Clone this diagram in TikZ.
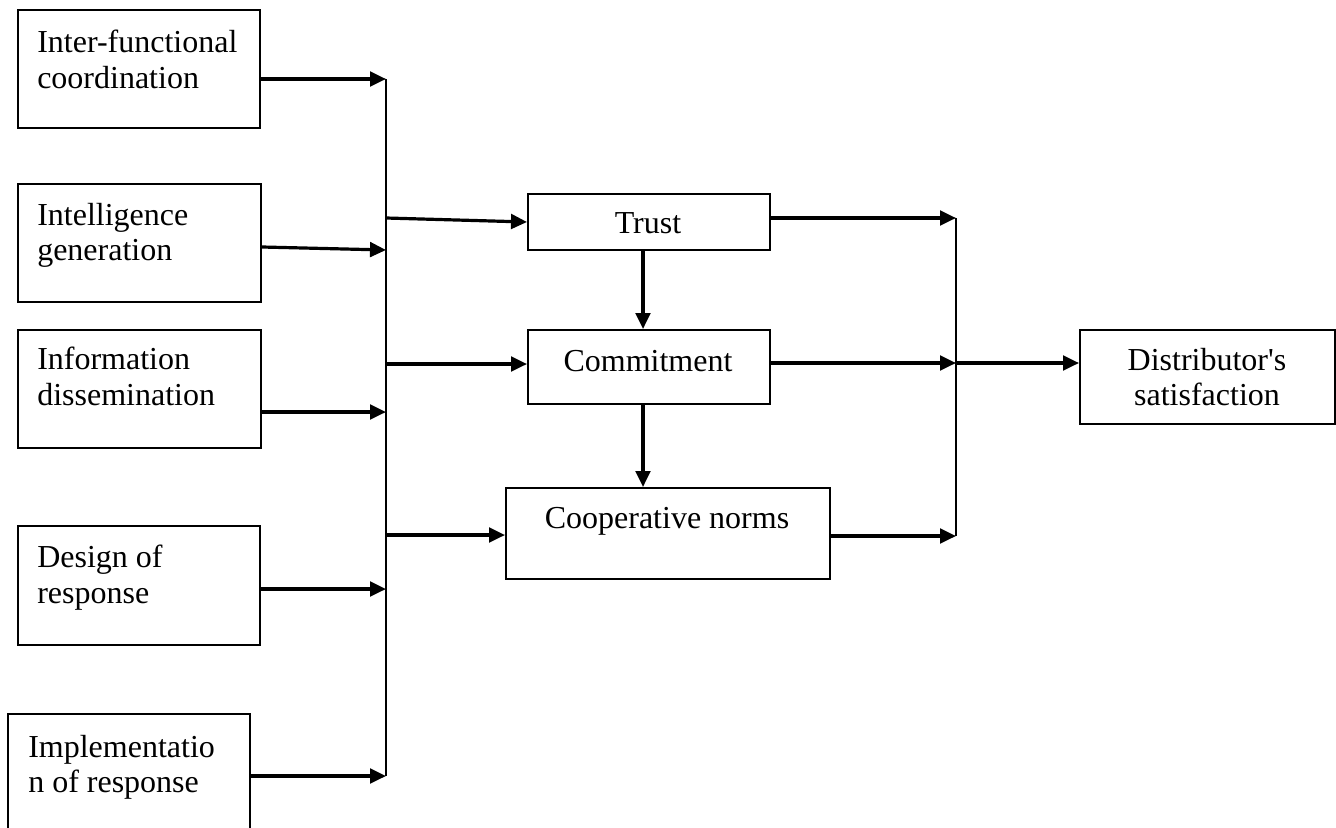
\documentclass[tikz,border=0pt]{standalone}
\usepackage{fontspec}
\setmainfont{Liberation Serif}[Ligatures=TeXOff]
\usetikzlibrary{arrows.meta,calc}
\begin{document}
\begin{tikzpicture}[x=0.75pt,y=-0.75pt,
  box/.style={draw, line width=1.5pt, inner sep=0pt, anchor=north west},
  txt/.style={inner sep=0pt, font=\fontsize{24}{26.5}\selectfont},
  arr/.style={line width=2.4pt, -{Triangle[length=12pt,width=11pt]}},
  bus/.style={line width=1.6pt}]
\useasboundingbox (0,0) rectangle (1336,828);
\clip (0,0) rectangle (1336,828);
% left boxes
\node[box, minimum width=181.5pt, minimum height=88.5pt] (b1) at (17,9) {};
\node[box, minimum width=182.25pt, minimum height=88.5pt] (b2) at (17,183) {};
\node[box, minimum width=182.25pt, minimum height=88.5pt] (b3) at (17,329) {};
\node[box, minimum width=181.5pt, minimum height=89.25pt] (b4) at (17,525) {};
\node[box, minimum width=181.5pt, minimum height=93.75pt] (b5) at (7,713) {};
% middle / right boxes
\node[box, minimum width=181.5pt, minimum height=42pt] (tr) at (527,193) {};
\node[box, minimum width=181.5pt, minimum height=55.5pt] (cm) at (527,329) {};
\node[box, minimum width=243pt, minimum height=68.25pt] (co) at (505,487) {};
\node[box, minimum width=191.25pt, minimum height=70.5pt] (ds) at (1079,329) {};
% texts
\node[txt, anchor=north west, align=left] (t1) at (37,30) {Inter-functional\\coordination};
\node[txt, anchor=north west, align=left] (t2) at (37,203) {Intelligence\\generation};
\node[txt, anchor=north west, align=left] (t3) at (37,347) {Information\\dissemination};
\node[txt, anchor=north west, align=left] (t4) at (37,545) {Design of\\response};
\node[txt, anchor=north west, align=left] (t5) at (28,735) {Implementatio\\n of response};
\node[txt, anchor=base] (ttr) at (648,233) {Trust};
\node[txt, anchor=base] (tcm) at (648,371) {Commitment};
\node[txt, anchor=base] (tco) at (667,528) {Cooperative norms};
\node[txt, anchor=north, align=center] (tds) at (1207,348) {Distributor's\\satisfaction};
% left bus
\coordinate (L1) at (386,79);
\coordinate (L2) at (386,250);
\coordinate (L3) at (386,412);
\coordinate (L4) at (386,589);
\coordinate (L5) at (386,776);
\draw[bus] (L1) -- (L5);
\draw[arr] (b1.east |- L1) -- (L1);
\draw[arr] ($(b2.north east)+(0,64)$) -- (L2);
\draw[arr] (b3.east |- L3) -- (L3);
\draw[arr] (b4.east |- L4) -- (L4);
\draw[arr] (b5.east |- L5) -- (L5);
% bus to middle boxes
\coordinate (M1) at (386,218);
\coordinate (M2) at (386,364);
\coordinate (M3) at (386,535);
\draw[arr] (M1) -- (tr.west);
\draw[arr] (M2) -- (M2 -| cm.west);
\draw[arr] (M3) -- (M3 -| co.west);
% vertical arrows
\draw[arr] ($(tr.south)+(-6,0)$) -- ($(cm.north)+(-6,0)$);
\draw[arr] ($(cm.south)+(-6,0)$) coordinate (v2) -- (v2 |- co.north);
% right bus
\coordinate (R1) at (956,218);
\coordinate (R2) at (956,363);
\coordinate (R3) at (956,536);
\draw[bus] (R1) -- (R3);
\draw[arr] (tr.east |- R1) -- (R1);
\draw[arr] (cm.east |- R2) -- (R2);
\draw[arr] (co.east |- R3) -- (R3);
\draw[arr] (R2) -- (R2 -| ds.west);
\end{tikzpicture}
\end{document}
